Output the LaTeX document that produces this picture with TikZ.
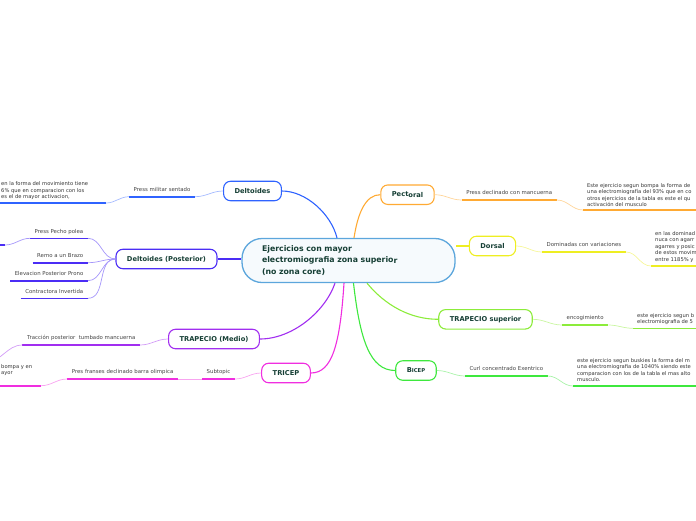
\documentclass[tikz,border=0pt]{standalone}
\usepackage{fontspec}
\setmainfont{DejaVu Sans}
\definecolor{cDel}{HTML}{2F63FF}\definecolor{lDel}{HTML}{A5BBFF}
\definecolor{cDP}{HTML}{4B2DF5}\definecolor{lDP}{HTML}{A596FA}
\definecolor{cTM}{HTML}{A12EF0}\definecolor{lTM}{HTML}{D39CF7}
\definecolor{cTri}{HTML}{F02EE0}\definecolor{lTri}{HTML}{F8A4F0}
\definecolor{cBic}{HTML}{3EE83E}\definecolor{lBic}{HTML}{A9F3A9}
\definecolor{cTS}{HTML}{8CEC3A}\definecolor{lTS}{HTML}{C9F6A0}
\definecolor{cDor}{HTML}{EEEE22}\definecolor{lDor}{HTML}{F6F69A}
\definecolor{cPec}{HTML}{FFAA33}\definecolor{lPec}{HTML}{FFD59A}
\definecolor{cCen}{HTML}{5CA6DC}\definecolor{fCen}{HTML}{F6FAFD}
\definecolor{titlec}{HTML}{163F35}\definecolor{labc}{HTML}{444444}\definecolor{notec}{HTML}{333333}
\begin{document}
\begin{tikzpicture}[x=1pt,y=-1pt,
  topic/.style={draw, rounded corners=7pt, line width=1.1pt, fill=white, inner xsep=11pt, inner ysep=0pt, minimum height=19.5pt, font=\fontsize{6.7}{7.5}\selectfont\bfseries, text=titlec},
  lab/.style={inner xsep=4.5pt, inner ysep=0pt, text height=4pt, text depth=5pt, font=\fontsize{5.4}{6.5}\selectfont, text=labc},
  note/.style={align=left, inner sep=0pt, font=\fontsize{5.2}{6.4}\selectfont, text=notec, anchor=north west},
  ul/.style={line width=1.6pt},
  lnk/.style={line width=0.7pt},
  mainc/.style={line width=1.1pt}]
\useasboundingbox (0,0) rectangle (696,520);
\clip (0,0) rectangle (696,520);

% central node
\node[draw=cCen, fill=fCen, line width=1.3pt, rounded corners=20pt, minimum width=213pt, minimum height=44pt, inner xsep=20pt, text width=173pt, align=left, font=\fontsize{7.8}{11.5}\selectfont\bfseries, text=titlec] (c) at (348.5,260.5) {Ejercicios con mayor\\electromiografia zona superio\raisebox{-1pt}{r}\\(no zona core)};

% main topics
\node[topic, draw=cDel] (del) at (252.5,191) {Deltoides};
\node[topic, draw=cDP] (dp) at (166.5,259) {Deltoides (Posterior)};
\node[topic, draw=cTM] (tm) at (214,339) {TRAPECIO (Medio)};
\node[topic, draw=cTri] (tri) at (286,373) {TRICEP};
\node[topic, draw=cBic] (bic) at (416,370.5) {B{\fontsize{5.3}{6}\selectfont ICEP}};
\node[topic, draw=cTS] (ts) at (485.5,319.3) {TRAPECIO superior};
\node[topic, draw=cDor] (dor) at (492.5,246) {Dorsal};
\node[topic, draw=cPec] (pec) at (407.5,194.7) {Pect\raisebox{-0.6pt}{oral}};

% main connectors
\draw[mainc, cDel] ([xshift=-11.5pt]c.north) .. controls (331,214) and (306,191) .. (del.east);
\draw[mainc, cPec] ([xshift=5.5pt]c.north) .. controls (358,212) and (366,194.7) .. (pec.west);
\draw[mainc, cDor] (dor.west) -- (dor.west -| c.east);
\draw[mainc, cDP] (dp.east) -- (dp.east -| c.west);
\draw[mainc, cTM] ([xshift=-13.5pt]c.south) .. controls (325,312) and (292,339) .. (tm.east);
\draw[mainc, cTri] ([xshift=-4.5pt]c.south) .. controls (340,345) and (332,373) .. (tri.east);
\draw[mainc, cBic] ([xshift=5pt]c.south) .. controls (360,340) and (370,370.5) .. (bic.west);
\draw[mainc, cTS] ([xshift=18.5pt]c.south) .. controls (385,305) and (410,319.3) .. (ts.west);

% ---- Deltoides
\node[lab, anchor=south west] (pm) at (129,196.7) {Press militar sentado};
\draw[ul, cDel] (pm.south west) -- (pm.south east);
\draw[lnk, lDel] (del.west) to[out=180,in=0] (pm.south east);
\node[note] (nd) at (1,181.2) {\strut en la forma del movimiento tiene\\6\% que en comparacion con los\\es el de mayor activacion,};
\coordinate (nd1) at (-5,203); \coordinate (nd2) at (106,203);
\draw[ul, cDel] (nd1) -- (nd2);
\draw[lnk, lDel] (nd2) to[out=0,in=180] (pm.south west);

% ---- Deltoides (Posterior)
\node[lab, anchor=south east] (pp) at (88,238.3) {Press Pecho polea};
\node[lab, anchor=south east] (rb) at (88,262.7) {Remo a un Brazo};
\node[lab, anchor=south east] (ep) at (88,280.7) {Elevacion Posterior Prono};
\node[lab, anchor=south east] (ci) at (88,298.3) {Contractora Invertida};
\foreach \n in {pp,rb,ep,ci}{
  \draw[ul, cDP] (\n.south west) -- (\n.south east);
  \draw[lnk, lDP] (dp.west) to[out=180,in=0] (\n.south east);
}
\coordinate (dn1) at (-20,245); \coordinate (dn2) at (5,245);
\draw[ul, cDP] (dn1) -- (dn2);
\draw[lnk, lDP] (dn2) to[out=0,in=180] (pp.south west);

% ---- TRAPECIO (Medio)
\node[lab, anchor=south east] (tp) at (140,345) {Tracción posterior~ tumbado mancuerna};
\draw[ul, cTM] (tp.south west) -- (tp.south east);
\draw[lnk, lTM] (tm.west) to[out=180,in=0] (tp.south east);
\coordinate (tmo) at (-14,362);
\draw[lnk, lTM] (tp.south west) to[out=180,in=0] (tmo);

% ---- TRICEP
\node[lab, anchor=south east] (sb) at (235,379) {Subtopic};
\node[lab, anchor=south east] (pf) at (178,379) {Pres franses declinado barra olimpica};
\draw[ul, cTri] (sb.south west) -- (sb.south east);
\draw[ul, cTri] (pf.south west) -- (pf.south east);
\draw[lnk, lTri] (tri.west) to[out=180,in=0] (sb.south east);
\draw[lnk, lTri] (sb.south west) -- (pf.south east);
\node[note] (nt) at (1,363.5) {\strut bompa y en\\ayor};
\coordinate (nt1) at (-5,385.7); \coordinate (nt2) at (41,385.7);
\draw[ul, cTri] (nt1) -- (nt2);
\draw[lnk, lTri] (nt2) to[out=0,in=180] (pf.south west);

% ---- Pectoral
\node[lab, anchor=south west] (pd) at (461.7,200) {Press declinado con mancuerna};
\draw[ul, cPec] (pd.south west) -- (pd.south east);
\draw[lnk, lPec] (pec.east) to[out=0,in=180] (pd.south west);
\node[note] (np) at (587,182.9) {\strut Este ejercicio segun bompa la forma de\\una electromiografía del 93\% que en co\\otros ejercicios de la tabla es este el qu\\activación del musculo};
\coordinate (np1) at (583,210); \coordinate (np2) at (700,210);
\draw[ul, cPec] (np1) -- (np2);
\draw[lnk, lPec] (pd.south east) to[out=0,in=180] (np1);

% ---- Dorsal
\node[lab, anchor=south west] (dv) at (542,252) {Dominadas con variaciones};
\draw[ul, cDor] (dv.south west) -- (dv.south east);
\draw[lnk, lDor] (dor.east) to[out=0,in=180] (dv.south west);
\node[note] (ndo) at (655,230.8) {\strut en las dominad\\nuca con agarr\\agarres y posic\\de estos movim\\entre 1185\% y};
\coordinate (ndo1) at (651,266); \coordinate (ndo2) at (700,266);
\draw[ul, cDor] (ndo1) -- (ndo2);
\draw[lnk, lDor] (dv.south east) to[out=0,in=180] (ndo1);

% ---- TRAPECIO superior
\node[lab, anchor=south west] (en) at (562,325) {encogimiento};
\draw[ul, cTS] (en.south west) -- (en.south east);
\draw[lnk, lTS] (ts.east) to[out=0,in=180] (en.south west);
\node[note] (nts) at (637,312.9) {\strut este ejercicio segun b\\electromiografia de 5};
\coordinate (nts1) at (633,328.3); \coordinate (nts2) at (700,328.3);
\draw[ul, cTS] (nts1) -- (nts2);
\draw[lnk, lTS] (en.south east) to[out=0,in=180] (nts1);

% ---- BICEP
\node[lab, anchor=south west] (cc) at (465,376) {Curl concentrado Exentrico};
\draw[ul, cBic] (cc.south west) -- (cc.south east);
\draw[lnk, lBic] (bic.east) to[out=0,in=180] (cc.south west);
\node[note] (nb) at (577,357.9) {\strut este ejercicio segun buskies la forma del m\\una electromiografia de 1040\% siendo este\\comparacion con los de la tabla el mas alto\\musculo.};
\coordinate (nb1) at (573,386); \coordinate (nb2) at (700,386);
\draw[ul, cBic] (nb1) -- (nb2);
\draw[lnk, lBic] (cc.south east) to[out=0,in=180] (nb1);
\end{tikzpicture}
\end{document}
